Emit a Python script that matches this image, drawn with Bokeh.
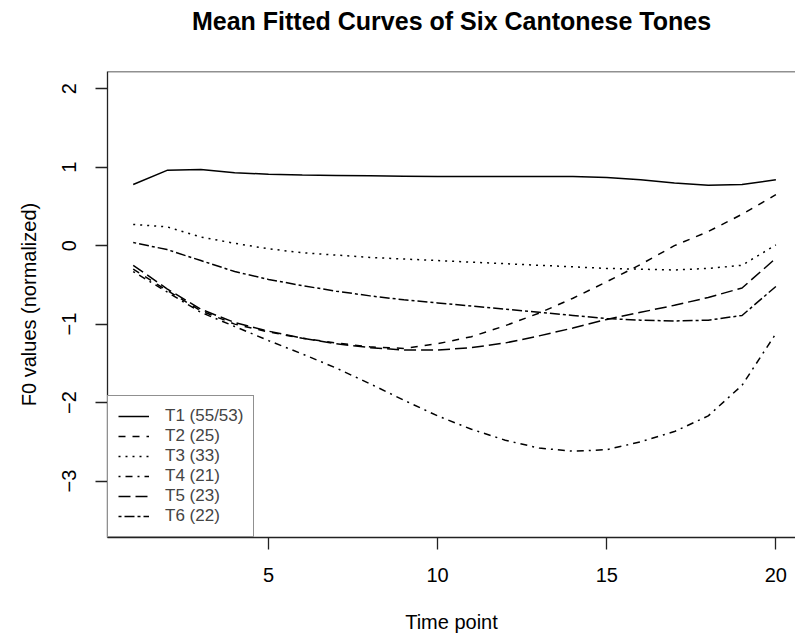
import math
from bokeh.plotting import figure
from bokeh.models import Range1d, Span, Legend, LegendItem, FixedTicker, Title
from bokeh.embed import file_html
from bokeh.resources import INLINE

# ---- data ----
time_points = list(range(1, 21))
t1 = [0.78, 0.96, 0.97, 0.93, 0.91, 0.90, 0.895, 0.89, 0.885, 0.88,
      0.88, 0.88, 0.88, 0.88, 0.87, 0.84, 0.80, 0.77, 0.78, 0.84]
t2 = [-0.30, -0.57, -0.83, -1.00, -1.10, -1.18, -1.24, -1.29, -1.31, -1.25,
      -1.16, -1.02, -0.86, -0.67, -0.46, -0.24, 0.00, 0.18, 0.40, 0.65]
t3 = [0.27, 0.24, 0.11, 0.03, -0.04, -0.09, -0.12, -0.15, -0.17, -0.19,
      -0.21, -0.23, -0.25, -0.27, -0.29, -0.30, -0.31, -0.29, -0.25, 0.01]
t4 = [-0.33, -0.59, -0.85, -1.03, -1.21, -1.38, -1.56, -1.76, -1.97, -2.17,
      -2.34, -2.48, -2.58, -2.62, -2.60, -2.50, -2.37, -2.17, -1.78, -1.12]
t5 = [-0.25, -0.55, -0.81, -0.98, -1.09, -1.18, -1.25, -1.30, -1.33, -1.33,
      -1.30, -1.24, -1.15, -1.05, -0.94, -0.85, -0.76, -0.66, -0.54, -0.16]
t6 = [0.04, -0.05, -0.19, -0.33, -0.43, -0.51, -0.58, -0.64, -0.69, -0.73,
      -0.77, -0.81, -0.85, -0.89, -0.93, -0.95, -0.96, -0.95, -0.89, -0.52]
series = [t1, t2, t3, t4, t5, t6]
labels = ["T1 (55/53)", "T2 (25)", "T3 (33)", "T4 (21)", "T5 (23)", "T6 (22)"]
x_ticks = [5, 10, 15, 20]
y_ticks = [-3, -2, -1, 0, 1, 2]
title_text = "Mean Fitted Curves of Six Cantonese Tones"

# ---- styles ----
dashes = ["solid", "7 7", "2 5", "2 5 7 5", "12 5", "3 3 10 3"]
FONT = "Liberation Sans"
AX = "#222222"
X0, X1 = 0.24, 20.58
Y0, Y1 = -3.72, 2.22

p = figure(width=795, height=636, output_backend="svg", toolbar_location=None,
           x_range=Range1d(X0, X1), y_range=Range1d(Y0, Y1),
           min_border_left=107, min_border_right=0, min_border_top=71,
           min_border_bottom=99, title=title_text)
p.outline_line_color = None
p.background_fill_color = "white"
p.border_fill_color = "white"
p.xgrid.visible = False
p.ygrid.visible = False

p.title.text_font = FONT
p.title.text_font_size = "25px"
p.title.text_font_style = "bold"
p.title.text_color = "black"
p.title.align = "center"
p.title.offset = 3
p.title.standoff = 0
# spacer panel between the frame and the title
p.add_layout(Title(text=" ", text_font_size="10px", standoff=24), "above")

for ax in (p.xaxis[0], p.yaxis[0]):
    ax.axis_line_color = AX
    ax.axis_line_width = 1.3
    ax.major_tick_line_color = AX
    ax.major_tick_line_width = 1.3
    ax.major_tick_out = 12
    ax.major_tick_in = 0
    ax.minor_tick_line_color = None
    ax.major_label_text_font = FONT
    ax.major_label_text_font_size = "20px"
    ax.major_label_text_color = "black"
    ax.axis_label_text_font = FONT
    ax.axis_label_text_font_size = "20px"
    ax.axis_label_text_font_style = "normal"
    ax.axis_label_text_color = "black"

p.xaxis.ticker = FixedTicker(ticks=x_ticks)
p.yaxis.ticker = FixedTicker(ticks=y_ticks)
p.xaxis.axis_label = "Time point"
p.yaxis.axis_label = "F0 values (normalized)"
p.xaxis.major_label_standoff = 18
p.xaxis.axis_label_standoff = 26
p.yaxis.major_label_orientation = "vertical"
p.yaxis.major_label_standoff = 19
p.yaxis.axis_label_standoff = 20

p.add_layout(Span(location=Y1, dimension="width", line_color=AX, line_width=1.3))

renderers = []
for ys, d in zip(series, dashes):
    r = p.line(time_points, ys, line_color="black", line_width=1.5, line_dash=d)
    renderers.append(r)

legend = Legend(items=[LegendItem(label=l, renderers=[r]) for l, r in zip(labels, renderers)],
                location="bottom_left", margin=0, padding=10, spacing=0,
                glyph_width=31, glyph_height=20, label_height=20, label_standoff=16,
                label_text_font=FONT, label_text_font_size="17px",
                border_line_color=AX, border_line_width=1.3,
                background_fill_color="white", background_fill_alpha=1.0)
p.add_layout(legend)

open("out.html", "w").write(file_html(p, INLINE))
